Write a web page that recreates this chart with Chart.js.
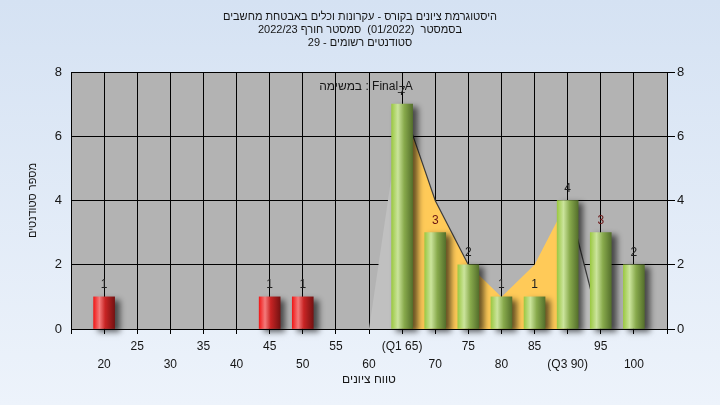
<!DOCTYPE html>
<html>
<head>
<meta charset="utf-8">
<script src="https://cdn.jsdelivr.net/npm/chart.js@4.4.1/dist/chart.umd.min.js"></script>
<style>
  html, body { margin: 0; padding: 0; }
  body { width: 720px; height: 405px; overflow: hidden; background: linear-gradient(#d5e2f3, #edf3fb); }
  canvas { display: block; direction: rtl; }
</style>
</head>
<body>
<canvas id="myChart" width="720" height="405"></canvas>
<script>
// grade bins and student counts per bin
const grades = [20, 25, 30, 35, 40, 45, 50, 55, 60, 65, 70, 75, 80, 85, 90, 95, 100];
const counts = [1, 0, 0, 0, 0, 1, 1, 0, 0, 7, 3, 2, 1, 1, 4, 3, 2];
// background area series (Final_A)
const curveGrades = [60, 65, 70, 75, 80, 85, 90, 95, 100];
const curveCounts = [0, 7, 4, 2, 1, 2, 4, 0, 0];
const passMark = 60;
const q1 = 65;
const q3 = 90;
const yTicks = [0, 2, 4, 6, 8];
const titleLines = [
  'היסטוגרמת ציונים בקורס - עקרונות וכלים באבטחת מחשבים',
  'בסמסטר  (01/2022)  סמסטר חורף 2022/23',
  'סטודנטים רשומים - 29'
];
const legendText = 'Final_A : במשימה';
const xTitle = 'טווח ציונים';
const yTitle = 'מספר סטודנטים';

const FONT = '"Liberation Sans", Arial, sans-serif';
const TXT = '#151515';

function barGradient(c) {
  const chart = c.chart;
  const fail = c.raw && c.raw.x < passMark;
  if (!chart.chartArea || !c.raw) return fail ? '#e02020' : '#9cc84a';
  const x = chart.scales.x.getPixelForValue(c.raw.x);
  const g = chart.ctx.createLinearGradient(x - 10.5, 0, x + 10.5, 0);
  if (fail) {
    g.addColorStop(0, '#f01a1a');
    g.addColorStop(0.28, '#f47b7b');
    g.addColorStop(0.55, '#c82424');
    g.addColorStop(1, '#761212');
  } else {
    g.addColorStop(0, '#9cc944');
    g.addColorStop(0.3, '#cbe49c');
    g.addColorStop(0.6, '#88aa4c');
    g.addColorStop(1, '#55702c');
  }
  return g;
}

const plotBg = {
  id: 'plotBg',
  beforeDraw(chart) {
    const { ctx, chartArea: a } = chart;
    ctx.save();
    ctx.fillStyle = '#b3b3b3';
    ctx.fillRect(a.left, a.top, a.right - a.left, a.bottom - a.top);
    ctx.restore();
  }
};

const barShadow = {
  id: 'barShadow',
  beforeDatasetDraw(chart, args) {
    if (args.index !== 0) return;
    const ctx = chart.ctx;
    ctx.save();
    ctx.shadowColor = 'rgba(0,0,0,0.6)';
    ctx.shadowBlur = 6;
    ctx.shadowOffsetX = 5;
    ctx.shadowOffsetY = 3;
  },
  afterDatasetDraw(chart, args) {
    if (args.index !== 0) return;
    chart.ctx.restore();
  }
};

const labels = {
  id: 'labels',
  afterDatasetsDraw(chart) {
    const ctx = chart.ctx;
    const meta = chart.getDatasetMeta(0);
    ctx.save();
    ctx.font = '12px ' + FONT;
    ctx.textAlign = 'center';
    ctx.textBaseline = 'middle';
    meta.data.forEach((bar, i) => {
      const v = chart.data.datasets[0].data[i].y;
      if (!v) return;
      ctx.fillStyle = v === 3 ? '#6a1414' : '#202020';
      ctx.fillText(String(v), bar.x, bar.y - 12);
    });
    // series caption inside the plot
    ctx.direction = 'rtl';
    ctx.fillStyle = TXT;
    ctx.fillText(legendText, 366, 87);
    ctx.restore();
  }
};

const barData = grades
  .map((g, i) => ({ x: g, y: counts[i] }))
  .filter(p => p.y > 0);

new Chart(document.getElementById('myChart').getContext('2d'), {
  data: {
    datasets: [{
      type: 'bar',
      data: barData,
      backgroundColor: barGradient,
      barThickness: 21,
      borderWidth: 0,
      clip: false,
      order: 1
    }, {
      type: 'line',
      data: curveGrades.map((g, i) => ({ x: g, y: curveCounts[i] })),
      fill: 'origin',
      backgroundColor: '#c0c0c0',
      borderColor: 'transparent',
      borderWidth: 1.2,
      pointRadius: 0,
      tension: 0,
      order: 2,
      segment: {
        backgroundColor: s => (s.p0.parsed.x >= q1 && s.p0.parsed.x < q3) ? '#ffca58' : '#c0c0c0',
        borderColor: s => {
          const x0 = s.p0.parsed.x;
          if (x0 === 65 || x0 === 70 || x0 === 90) return '#3c3c3c';
          if (x0 === 95) return '#9a9a9a';
          return 'transparent';
        }
      }
    }]
  },
  options: {
    responsive: false,
    animation: false,
    layout: { padding: 0 },
    plugins: {
      legend: { display: false },
      tooltip: { enabled: false },
      title: {
        display: true,
        text: titleLines,
        color: TXT,
        font: { family: FONT, size: 11, weight: 'normal', lineHeight: '13px' },
        padding: { top: 10, bottom: 23 }
      }
    },
    scales: {
      x: {
        type: 'linear',
        offset: false,
        min: 15,
        max: 105,
        afterFit: s => { s.height = 76; },
        ticks: {
          stepSize: 5,
          autoSkip: false,
          maxRotation: 0,
          padding: 4,
          color: TXT,
          font: { family: FONT, size: 12, lineHeight: 1.5 },
          callback: v => {
            if (v <= 15 || v >= 105) return '';
            let t = String(v);
            if (v === q1) t = '(Q1 ' + v + ')';
            if (v === q3) t = '(Q3 ' + v + ')';
            return (v / 5) % 2 === 1 ? [t, ''] : ['', t];
          }
        },
        grid: { offset: false, color: '#000', lineWidth: 1, tickLength: 5, tickColor: '#000' },
        border: { color: '#000' },
        title: {
          display: true,
          text: xTitle,
          color: TXT,
          font: { family: FONT, size: 12 },
          padding: { top: 0, bottom: 18 }
        }
      },
      y: {
        position: 'left',
        min: 0,
        max: 8,
        afterFit: s => { s.width = 71; },
        afterBuildTicks: s => { s.ticks = yTicks.map(v => ({ value: v })); },
        ticks: { color: TXT, padding: 9, font: { family: FONT, size: 13 } },
        grid: { color: '#000', lineWidth: 1, drawTicks: false },
        border: { color: '#000' },
        title: {
          display: true,
          text: yTitle,
          color: TXT,
          font: { family: FONT, size: 11 },
          padding: { top: 26, bottom: 0 }
        }
      },
      y2: {
        position: 'right',
        min: 0,
        max: 8,
        afterFit: s => { s.width = 53; },
        afterBuildTicks: s => { s.ticks = yTicks.map(v => ({ value: v })); },
        ticks: { color: TXT, padding: 2, font: { family: FONT, size: 13 } },
        grid: { drawOnChartArea: false, drawTicks: true, tickLength: 8, tickColor: '#000', color: '#000' },
        border: { color: '#000' }
      }
    }
  },
  plugins: [plotBg, barShadow, labels]
});
</script>
</body>
</html>
